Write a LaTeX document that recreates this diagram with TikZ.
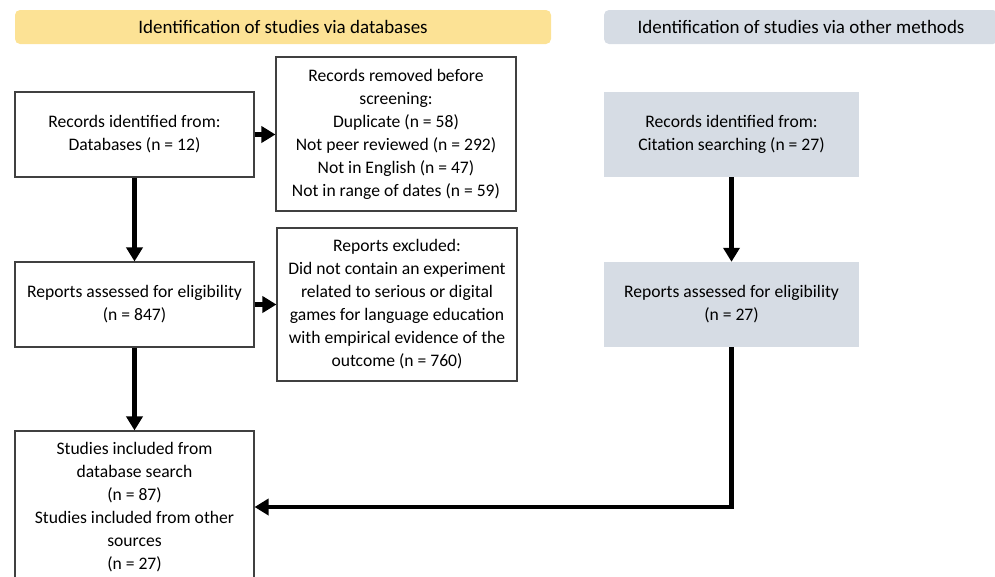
\documentclass[tikz,border=0pt]{standalone}
\usepackage{fontspec}
\setmainfont{Carlito}
\usepackage{tikz}
\usetikzlibrary{arrows.meta,positioning}
\definecolor{bannerY}{HTML}{FCE295}
\definecolor{bannerG}{HTML}{D6DCE4}
\definecolor{edge}{HTML}{404040}

\begin{document}
\begin{tikzpicture}[x=1pt,y=-1pt,
  txt/.style={font=\fontsize{17.6}{23}\selectfont,align=center,inner sep=0pt},
  box/.style={txt,draw=edge,line width=1.1pt,fill=white,minimum width=239pt,minimum height=85pt},
  gbox/.style={txt,fill=bannerG,minimum width=255pt,minimum height=85pt},
  banner/.style={txt,font=\fontsize{19}{23}\selectfont,rounded corners=5pt,minimum height=34pt},
  arr/.style={-{Triangle[length=14pt,width=16pt]},line width=4.5pt}
]
\useasboundingbox (0,0) rectangle (995,576);

% headings
\node[banner,fill=bannerY,minimum width=536pt] (hdb) at (283,27) {Identification of studies via databases};
\node[banner,fill=bannerG,minimum width=394pt] (hoth) at (801,27) {Identification of studies via other methods};

% databases column
\node[box] (rec) at (134.5,134.5) {Records identified from:\\Databases (n = 12)};
\node[box,minimum width=240pt,minimum height=154pt] (removed) at (396,134) {Records removed before\\screening:\\Duplicate (n = 58)\\Not peer reviewed (n = 292)\\Not in English (n = 47)\\Not in range of dates (n = 59)};
\node[box] (assess) at (134.5,304.5) {Reports assessed for eligibility\\(n = 847)};
\node[box,minimum width=240pt,minimum height=153pt] (excl) at (397,304.5) {Reports excluded:\\Did not contain an experiment\\related to serious or digital\\games for language education\\with empirical evidence of the\\outcome (n = 760)};
\node[box,minimum height=152pt] (incl) at (134.5,507) {Studies included from\\database search\\(n = 87)\\Studies included from other\\sources\\(n = 27)};

% other methods column
\node[gbox] (cite) at (731.5,134.5) {Records identified from:\\Citation searching (n = 27)};
\node[gbox] (assessO) at (731.5,304.5) {Reports assessed for eligibility\\(n = 27)};

\draw[arr] (rec)--(removed.west |- rec);
\draw[arr] (assess)--(excl.west |- assess);
\draw[arr] (rec)--(assess);
\draw[arr] (assess)--(incl);
\draw[arr] (cite)--(assessO);
\draw[arr] (assessO.south)--(assessO.south |- incl.east)--(incl.east);
\end{tikzpicture}
\end{document}
